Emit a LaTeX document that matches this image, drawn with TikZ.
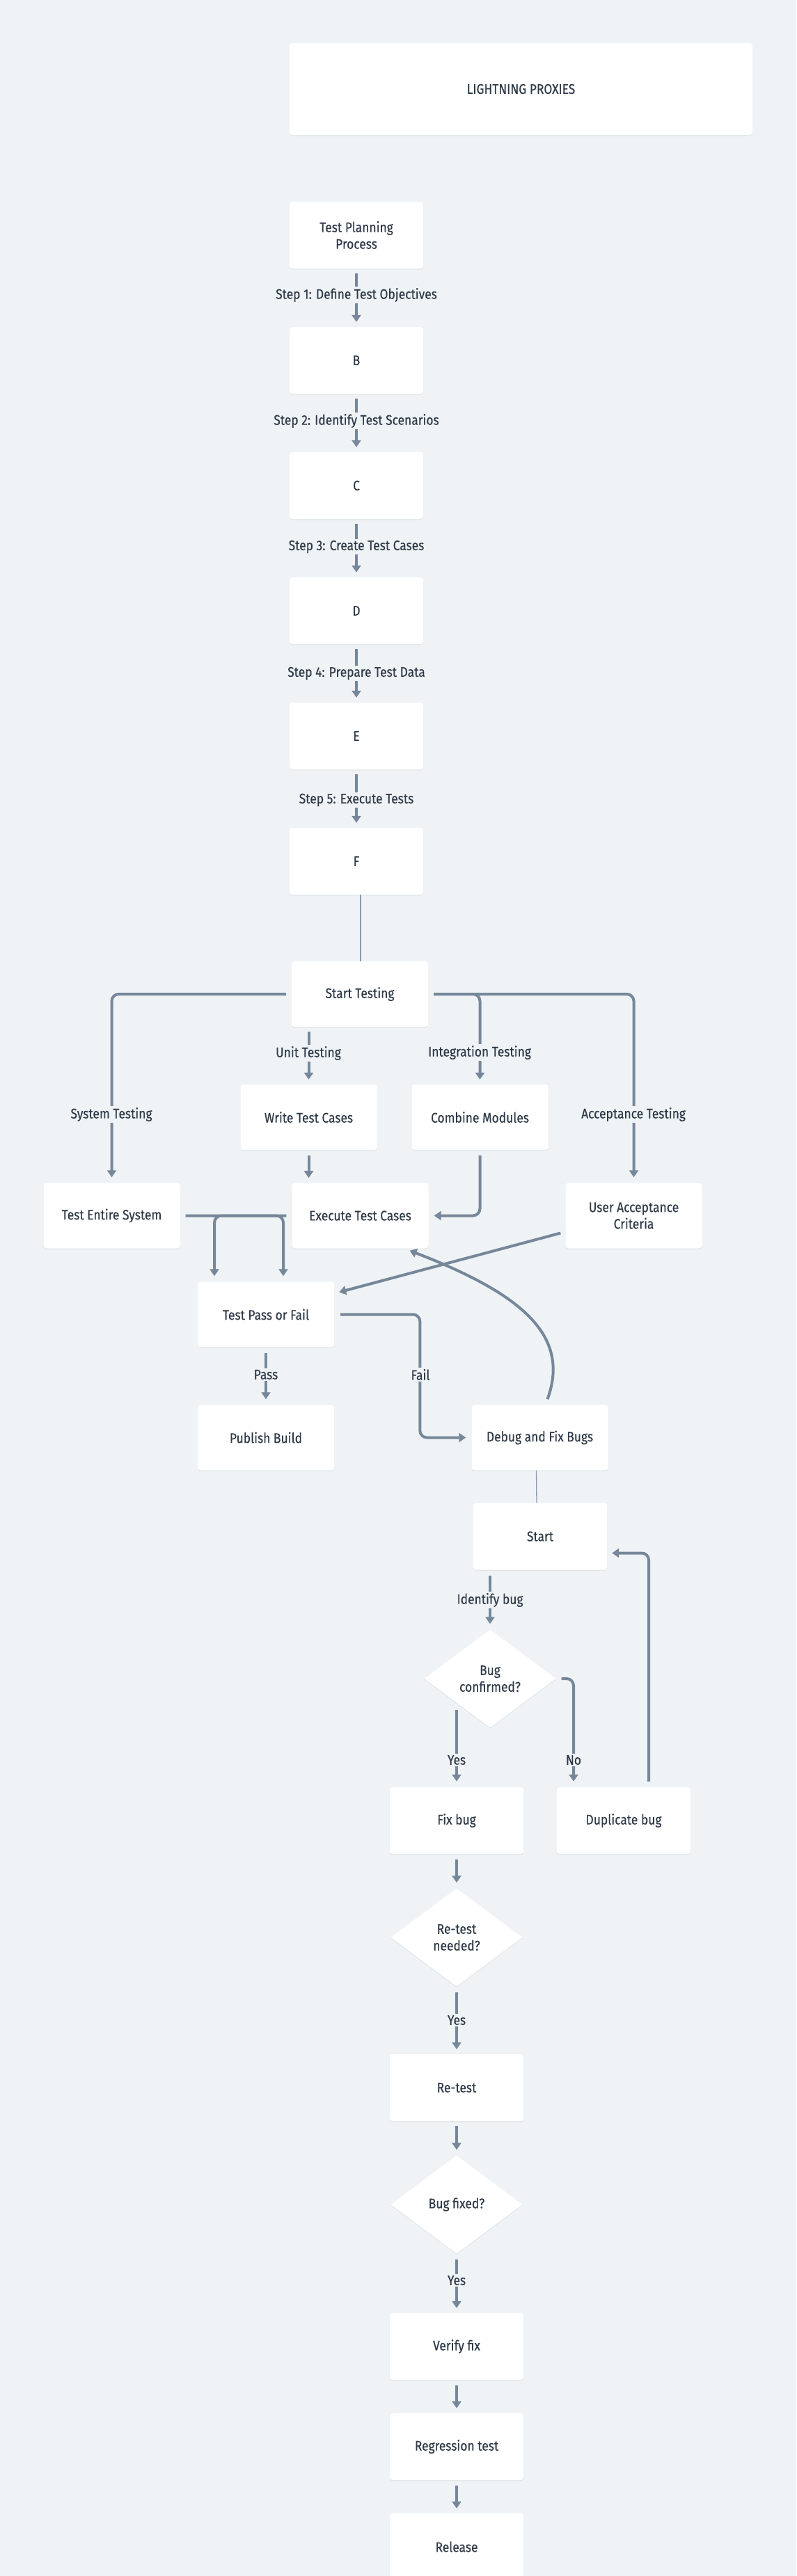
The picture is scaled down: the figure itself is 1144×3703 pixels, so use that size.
\documentclass[tikz,border=0pt]{standalone}
\usepackage{fontspec}
\newfontfamily\fs{Fira Sans}[FakeStretch=0.87,FakeBold=0.3]
\usetikzlibrary{arrows.meta,calc,shapes.geometric,shadows}
\definecolor{bg}{HTML}{EFF3F6}
\definecolor{ln}{HTML}{76879A}
\definecolor{thinln}{HTML}{8A9BAE}
\definecolor{txt}{HTML}{2F3A48}
\tikzset{
  txtfont/.style={font=\fs\fontsize{20}{24}\selectfont, text=txt},
  box/.style={rectangle, rounded corners=4pt, fill=white, minimum width=192pt, minimum height=96pt,
    inner sep=0pt, align=center, txtfont,
    drop shadow={shadow xshift=0pt, shadow yshift=-1.5pt, opacity=0.05, fill=black}},
  boxs/.style={box, minimum width=196pt, minimum height=94pt},
  dia/.style={diamond, fill=white, minimum width=189pt, minimum height=141pt, inner sep=0pt,
    align=center, txtfont,
    drop shadow={shadow xshift=0pt, shadow yshift=-1.5pt, opacity=0.05, fill=black}},
  edge/.style={draw=ln, line width=4pt, rounded corners=10pt, -{Triangle[width=13pt,length=10pt]}},
  lab/.style={fill=bg, inner sep=2pt, txtfont},
  thinedge/.style={draw=thinln, line width=1.3pt}
}
\begin{document}
\begin{tikzpicture}[x=1pt,y=-1pt]
\fill[bg] (0,0) rectangle (1144,3703);
\useasboundingbox (0,0) rectangle (1144,3703);
\clip (0,0) rectangle (1144,3703);

% ---------- top section ----------
\node[box, minimum width=665pt, minimum height=132pt] (title) at (748.5,128) {LIGHTNING PROXIES};
\node[box] (tp) at (512,338) {Test Planning\\Process};
\node[box] (b) at (512,518) {B};
\node[box] (c) at (512,698) {C};
\node[box] (d) at (512,878) {D};
\node[box] (e) at (512,1058) {E};
\node[box] (f) at (512,1238) {F};

\draw[edge] ($(tp.south)+(0,7)$) -- ($(b.north)+(0,-7)$);
\draw[edge] ($(b.south)+(0,7)$) -- ($(c.north)+(0,-7)$);
\draw[edge] ($(c.south)+(0,7)$) -- ($(d.north)+(0,-7)$);
\draw[edge] ($(d.south)+(0,7)$) -- ($(e.north)+(0,-7)$);
\draw[edge] ($(e.south)+(0,7)$) -- ($(f.north)+(0,-7)$);
\node[lab] (l1) at (512,424) {Step 1: Define Test Objectives};
\node[lab] (l2) at (512,605) {Step 2: Identify Test Scenarios};
\node[lab] (l3) at (512,786) {Step 3: Create Test Cases};
\node[lab] (l4) at (512,968) {Step 4: Prepare Test Data};
\node[lab] (l5) at (512,1150) {Step 5: Execute Tests};

% ---------- testing section ----------
\node[boxs] (st) at (517,1429) {Start Testing};
\node[boxs] (wtc) at (443.5,1606) {Write Test Cases};
\node[boxs] (cm) at (689.5,1606) {Combine Modules};
\node[boxs] (tes) at (160.5,1747.5) {Test Entire System};
\node[boxs] (etc) at (517.5,1747.5) {Execute Test Cases};
\node[boxs] (uac) at (910.5,1747.5) {User Acceptance\\Criteria};
\node[boxs] (tpf) at (382,1889.5) {Test Pass or Fail};
\node[boxs] (pb) at (382,2066.5) {Publish Build};
\node[boxs] (dbg) at (775.5,2066.5) {Debug and Fix Bugs};

\draw[thinedge] ($(f.south)+(6,0)$) -- ($(st.north)+(1,0)$);

\draw[edge] ($(st.west)+(-8,0)$) -| ($(tes.north)+(0,-8)$);
\draw[edge] ($(wtc.north |- st.south)+(0,7)$) -- ($(wtc.north)+(0,-7)$);
\draw[edge] ($(st.east)+(8,0)$) -| ($(cm.north)+(0,-7)$);
\draw[edge] ($(st.east)+(8,0)$) -| ($(uac.north)+(0,-8)$);
\draw[edge] ($(wtc.south)+(0,8)$) -- ($(etc.north |- wtc.south)+(-74,40)$);
\draw[edge] ($(cm.south)+(0,8)$) |- ($(etc.east)+(8,0)$);
\draw[edge] ($(tes.east)+(8,0)$) -| ($(tpf.north)+(25,-8)$);
\draw[edge] ($(etc.west)+(-8,0)$) -| ($(tpf.north)+(-74,-8)$);
\draw[edge] ($(uac.west)+(-7,25)$) -- ($(tpf.east)+(7,-32)$);
\draw[edge] ($(tpf.south)+(0,8)$) -- ($(pb.north)+(0,-8)$);
\draw[edge] ($(tpf.east)+(9,0)$) -| ($(dbg.west)+(-74,0)$) -- ($(dbg.west)+(-8,0)$);
\draw[edge, rounded corners=0pt] ($(dbg.north)+(11,-8)$) .. controls (820,1920) and (750,1860) .. ($(etc.south)+(71,3)$);

\node[lab] (lsys) at (160,1602) {System Testing};
\node[lab] (lunit) at (443,1514) {Unit Testing};
\node[lab] (lint) at (689,1513) {Integration Testing};
\node[lab] (lacc) at (910,1602) {Acceptance Testing};
\node[lab] (lpass) at (382,1976) {Pass};
\node[lab] (lfail) at (604,1976) {Fail};

% ---------- bug section ----------
\node[box] (start) at (776,2208.5) {Start};
\node[dia] (bc) at (704,2413) {Bug\\confirmed?};
\node[box] (fix) at (656,2617) {Fix bug};
\node[box] (dup) at (896,2617) {Duplicate bug};
\node[dia] (rn) at (656,2785) {Re-test\\needed?};
\node[box] (rt) at (656,3001) {Re-test};
\node[dia] (bf) at (656,3169) {Bug fixed?};
\node[box] (vf) at (656,3373) {Verify fix};
\node[box] (rg) at (656,3517) {Regression test};
\node[box] (rel) at (656,3661) {Release};

\draw[thinedge] ($(dbg.south)+(-5,0)$) -- ($(start.north)+(-5,0)$);

\draw[edge] ($(bc.north |- start.south)+(0,8)$) -- ($(bc.north)+(0,-8)$);
\draw[edge] ($(fix.north |- bc.south)+(0,-26)$) -- ($(fix.north)+(0,-8)$);
\draw[edge] ($(bc.east)+(8,0)$) -| ($(dup.north)+(-72,-8)$);
\draw[edge] ($(dup.north)+(36,-8)$) |- ($(start.east)+(7,24)$);
\draw[edge] ($(fix.south)+(0,8)$) -- ($(rn.north)+(0,-8)$);
\draw[edge] ($(rn.south)+(0,8)$) -- ($(rt.north)+(0,-7)$);
\draw[edge] ($(rt.south)+(0,7)$) -- ($(bf.north)+(0,-8)$);
\draw[edge] ($(bf.south)+(0,8)$) -- ($(vf.north)+(0,-7)$);
\draw[edge] ($(vf.south)+(0,8)$) -- ($(rg.north)+(0,-7)$);
\draw[edge] ($(rg.south)+(0,8)$) -- ($(rel.north)+(0,-7)$);

\node[lab] (lid) at (704,2300) {Identify bug};
\node[lab] (ly1) at (656,2530) {Yes};
\node[lab] (lno) at (824,2530) {No};
\node[lab] (ly2) at (656,2904) {Yes};
\node[lab] (ly3) at (656,3278) {Yes};
\end{tikzpicture}
\end{document}
